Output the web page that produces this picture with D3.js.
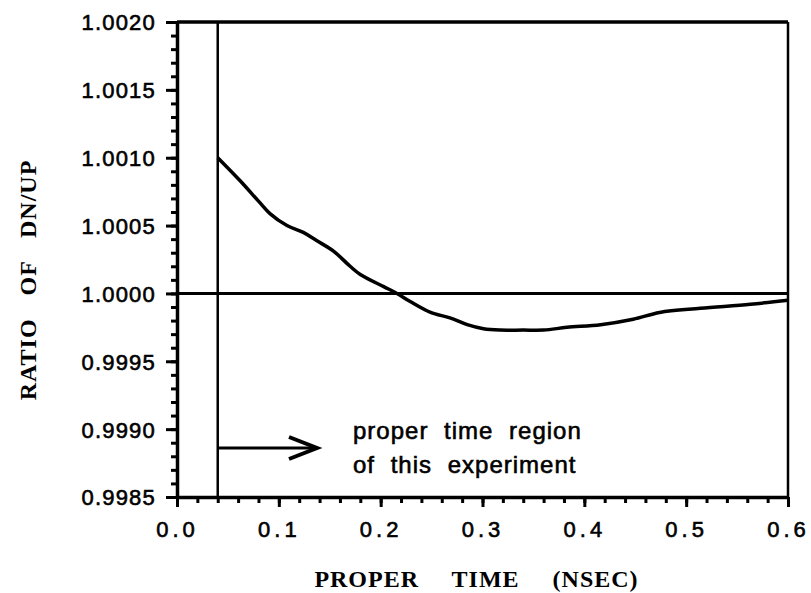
<!DOCTYPE html>
<html>
<head>
<meta charset="utf-8">
<script src="https://cdn.jsdelivr.net/npm/d3@7"></script>
<style>
  html, body { margin: 0; padding: 0; background: #fff; }
  svg { display: block; }
  .tick text { fill: #000; }
</style>
</head>
<body>
<svg id="chart"></svg>
<script>
"use strict";

// =================== DATASET ===================
const properTime = [0.040, 0.062, 0.080, 0.091, 0.108, 0.124, 0.137, 0.154, 0.170, 0.180, 0.203, 0.216, 0.229,
  0.249, 0.268, 0.285, 0.301, 0.317, 0.340, 0.360, 0.383, 0.416, 0.448, 0.474, 0.514, 0.563, 0.600];
const ratioDnUp = [1.00100, 1.00083, 1.00068, 1.00059, 1.00050, 1.00045, 1.00039, 1.00031, 1.00020, 1.00014, 1.00005, 1.00000, 0.99994,
  0.99986, 0.99982, 0.99977, 0.99974, 0.99973, 0.99973, 0.99973, 0.99975, 0.99977, 0.99981, 0.99986, 0.99989, 0.99992, 0.99995];
const xTicks = [0, 0.1, 0.2, 0.3, 0.4, 0.5, 0.6];
const yTicks = [0.9985, 0.9990, 0.9995, 1.0000, 1.0005, 1.0010, 1.0015, 1.0020];
const regionStart = 0.04;
const unityRatio = 1.0;

const curve = properTime.map((t, i) => ({ t: t, r: ratioDnUp[i] }));

// =================== CHART SETUP ===================
const svgWidth = 811;
const svgHeight = 593;
const margin = { top: 22, right: 23, bottom: 96, left: 177 };
const width = svgWidth - margin.left - margin.right;
const height = svgHeight - margin.top - margin.bottom;

const svg = d3.select("#chart")
  .attr("width", svgWidth)
  .attr("height", svgHeight)
  .append("g")
  .attr("transform", `translate(${margin.left},${margin.top})`);

// =================== SCALES ===================
const xScale = d3.scaleLinear().domain([0, 0.6]).range([0, width]);
const yScale = d3.scaleLinear().domain([0.9985, 1.0020]).range([height, 0]);

// =================== AXES ===================
const sansFont = "'Liberation Sans', Arial, Helvetica, sans-serif";
const serifFont = "'Liberation Serif', 'Times New Roman', Times, serif";

// minor ticks first
svg.append("g")
  .attr("transform", `translate(0,${height})`)
  .call(d3.axisBottom(xScale).ticks(30).tickSize(6).tickFormat(""))
  .call(g => g.select(".domain").remove())
  .call(g => g.selectAll("line").attr("stroke-width", 3));

svg.append("g")
  .call(d3.axisLeft(yScale).ticks(35).tickSize(6).tickFormat(""))
  .call(g => g.select(".domain").remove())
  .call(g => g.selectAll("line").attr("stroke-width", 3));

// major ticks + labels
svg.append("g")
  .attr("transform", `translate(0,${height})`)
  .call(d3.axisBottom(xScale).tickValues(xTicks).tickSize(10).tickPadding(14).tickSizeOuter(0)
    .tickFormat(d3.format(".1f")))
  .call(g => g.select(".domain").attr("stroke-width", 3.5))
  .call(g => g.selectAll("line").attr("stroke-width", 3))
  .call(g => g.selectAll("text")
    .style("font-family", sansFont)
    .style("font-size", "22px")
    .style("letter-spacing", "4px")
    .attr("stroke", "#000")
    .attr("stroke-width", 0.6));

svg.append("g")
  .call(d3.axisLeft(yScale).tickValues(yTicks).tickSize(11).tickPadding(10).tickSizeOuter(0)
    .tickFormat(d3.format(".4f")))
  .call(g => g.select(".domain").attr("stroke-width", 3.5))
  .call(g => g.selectAll("line").attr("stroke-width", 3))
  .call(g => g.selectAll("text")
    .style("font-family", sansFont)
    .style("font-size", "22px")
    .style("letter-spacing", "1.2px")
    .attr("stroke", "#000")
    .attr("stroke-width", 0.6)
    .attr("dy", "0.36em"));

// frame: top and right
svg.append("line")
  .attr("x1", 0).attr("x2", width)
  .attr("y1", 0).attr("y2", 0)
  .attr("stroke", "#000").attr("stroke-width", 3.5);
svg.append("line")
  .attr("x1", width).attr("x2", width)
  .attr("y1", 0).attr("y2", height)
  .attr("stroke", "#000").attr("stroke-width", 2.5);

// =================== REFERENCE LINES ===================
svg.append("line")
  .attr("x1", 0).attr("x2", width)
  .attr("y1", yScale(unityRatio)).attr("y2", yScale(unityRatio))
  .attr("stroke", "#000").attr("stroke-width", 3);

svg.append("line")
  .attr("x1", xScale(regionStart)).attr("x2", xScale(regionStart))
  .attr("y1", 0).attr("y2", height)
  .attr("stroke", "#000").attr("stroke-width", 2.5);

// =================== CURVE ===================
const line = d3.line()
  .x(d => xScale(d.t))
  .y(d => yScale(d.r))
  .curve(d3.curveCatmullRom.alpha(0.5));

svg.append("path")
  .datum(curve)
  .attr("d", line)
  .attr("fill", "none")
  .attr("stroke", "#000")
  .attr("stroke-width", 3.5)
  .attr("stroke-linejoin", "round");

// =================== ANNOTATION ===================
const arrowY = 426;
const arrowX0 = xScale(regionStart);
const arrowX1 = 140;
svg.append("line")
  .attr("x1", arrowX0).attr("x2", arrowX1 - 2)
  .attr("y1", arrowY).attr("y2", arrowY)
  .attr("stroke", "#000").attr("stroke-width", 3);
svg.append("path")
  .attr("d", `M${arrowX1 - 28},${arrowY - 11} L${arrowX1},${arrowY} L${arrowX1 - 28},${arrowY + 11}`)
  .attr("fill", "none")
  .attr("stroke", "#000")
  .attr("stroke-width", 4)
  .attr("stroke-linejoin", "miter");

const note = svg.append("text")
  .attr("x", 176)
  .attr("y", 417)
  .attr("stroke", "#000")
  .attr("stroke-width", 0.6)
  .style("font-family", sansFont)
  .style("font-size", "24px")
  .style("letter-spacing", "1px")
  .style("word-spacing", "8px");
note.append("tspan").attr("x", 176).text("proper time region");
note.append("tspan").attr("x", 176).attr("dy", 34).text("of this experiment");

// =================== AXIS LABELS ===================
svg.append("text")
  .attr("x", width / 2 - 6)
  .attr("y", height + 90)
  .attr("text-anchor", "middle")
  .style("font-family", serifFont)
  .style("font-weight", "700")
  .style("font-size", "24px")
  .style("letter-spacing", "1px")
  .style("word-spacing", "26px")
  .text("PROPER TIME (NSEC)");

svg.append("text")
  .attr("transform", "rotate(-90)")
  .attr("x", -(280 - margin.top))
  .attr("y", 36 - margin.left)
  .attr("text-anchor", "middle")
  .style("font-family", serifFont)
  .style("font-weight", "700")
  .style("font-size", "24px")
  .style("letter-spacing", "1px")
  .style("word-spacing", "16px")
  .text("RATIO OF DN/UP");
</script>
</body>
</html>
